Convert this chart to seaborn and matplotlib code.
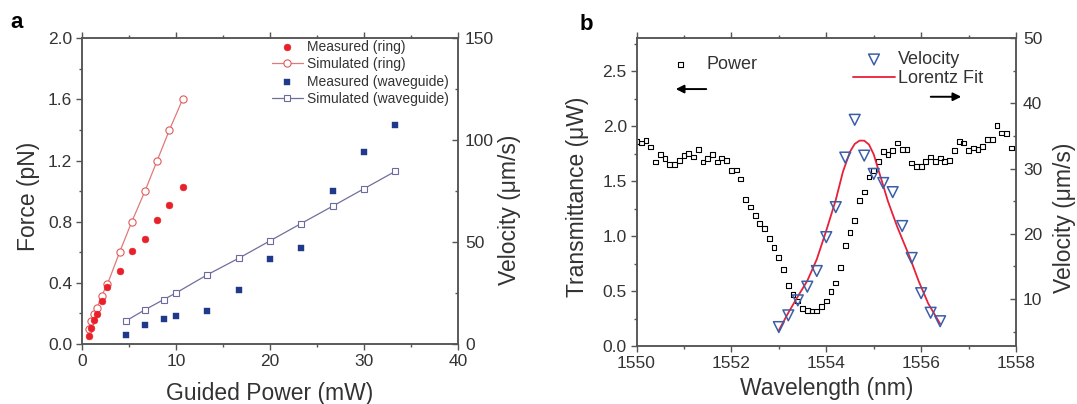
import matplotlib
matplotlib.use("Agg")
import matplotlib.pyplot as plt
from matplotlib.ticker import MultipleLocator, FormatStrFormatter
import seaborn as sns

# ---- panel a: force vs guided power ----
ring_power = [0.7, 1.0, 1.3, 1.6, 2.1, 2.7, 4.0, 5.3, 6.7, 8.0, 9.3, 10.7]
ring_measured = [0.054, 0.104, 0.154, 0.198, 0.282, 0.376, 0.48, 0.61, 0.684, 0.812, 0.908, 1.027]
ring_simulated = [0.10, 0.15, 0.195, 0.234, 0.317, 0.39, 0.60, 0.80, 1.0, 1.2, 1.4, 1.6]

wg_power = [4.7, 6.7, 8.7, 10.0, 13.3, 16.7, 20.0, 23.3, 26.7, 30.0, 33.3]
wg_measured = [0.059, 0.122, 0.163, 0.180, 0.213, 0.354, 0.554, 0.625, 1.003, 1.255, 1.433]
wg_simulated = [0.152, 0.224, 0.291, 0.334, 0.452, 0.562, 0.675, 0.788, 0.903, 1.016, 1.129]

# ---- panel b: transmission spectrum and velocity ----
power_wl = [1550.0, 1550.1, 1550.2, 1550.3, 1550.4, 1550.5, 1550.6, 1550.7, 1550.8, 1550.9,
            1551.0, 1551.1, 1551.2, 1551.3, 1551.4, 1551.5, 1551.6, 1551.7, 1551.8, 1551.9,
            1552.0, 1552.1, 1552.2, 1552.3, 1552.4, 1552.5, 1552.6, 1552.7, 1552.8, 1552.9,
            1553.0, 1553.1, 1553.2, 1553.3, 1553.4, 1553.5, 1553.6, 1553.7, 1553.8, 1553.9,
            1554.0, 1554.1, 1554.2, 1554.3, 1554.4, 1554.5, 1554.6, 1554.7, 1554.8, 1554.9,
            1555.0, 1555.1, 1555.2, 1555.3, 1555.4, 1555.5, 1555.6, 1555.7, 1555.8, 1555.9,
            1556.0, 1556.1, 1556.2, 1556.3, 1556.4, 1556.5, 1556.6, 1556.7, 1556.8, 1556.9,
            1557.0, 1557.1, 1557.2, 1557.3, 1557.4, 1557.5, 1557.6, 1557.7, 1557.8, 1557.9]
power_uw = [1.863, 1.847, 1.869, 1.811, 1.674, 1.741, 1.705, 1.650, 1.650, 1.689,
            1.735, 1.750, 1.720, 1.787, 1.674, 1.705, 1.744, 1.674, 1.711, 1.686,
            1.595, 1.601, 1.519, 1.331, 1.264, 1.191, 1.112, 1.067, 0.975, 0.896,
            0.802, 0.693, 0.553, 0.471, 0.410, 0.343, 0.322, 0.319, 0.319, 0.359,
            0.410, 0.495, 0.574, 0.714, 0.915, 1.036, 1.139, 1.322, 1.401, 1.538,
            1.595, 1.680, 1.771, 1.741, 1.781, 1.847, 1.787, 1.787, 1.665, 1.635,
            1.635, 1.680, 1.720, 1.680, 1.711, 1.680, 1.686, 1.781, 1.863, 1.847,
            1.781, 1.802, 1.787, 1.817, 1.878, 1.878, 2.009, 1.939, 1.930, 1.802]

vel_wl = [1553.0, 1553.2, 1553.4, 1553.6, 1553.8, 1554.0, 1554.2, 1554.4, 1554.6,
          1554.8, 1555.0, 1555.2, 1555.4, 1555.6, 1555.8, 1556.0, 1556.2, 1556.4]
velocity = [5.7, 7.5, 9.8, 11.9, 14.3, 19.5, 24.1, 31.7, 37.5,
            32.0, 29.2, 27.8, 26.4, 21.2, 16.3, 10.9, 7.9, 6.6]

# Lorentz fit curve
fit_wl = [1553.0, 1553.2, 1553.4, 1553.6, 1553.8, 1554.0, 1554.2, 1554.35, 1554.5,
          1554.6, 1554.7, 1554.8, 1554.9, 1555.0, 1555.1, 1555.3, 1555.5, 1555.75,
          1555.95, 1556.15, 1556.4]
fit_vel = [5.2, 7.9, 10.4, 12.8, 16.1, 20.5, 25.2, 29.5, 32.6,
           33.8, 34.3, 34.3, 33.7, 32.2, 29.8, 25.0, 21.0, 16.6,
           12.7, 9.3, 6.2]

RED = "#e8202a"
BLUE = "#1f3a8a"
TXT = "#333333"
SPINE = "#555555"

sns.set_style("ticks")
plt.rcParams["font.family"] = ["Liberation Sans", "DejaVu Sans"]
plt.rcParams["text.color"] = TXT
plt.rcParams["axes.labelcolor"] = TXT


def style_axes(ax, ax2):
    for a in (ax, ax2):
        for s in a.spines.values():
            s.set_color(SPINE)
            s.set_linewidth(1.1)
    ax.tick_params(axis="both", which="both", direction="out", colors=SPINE,
                   labelcolor=TXT, labelsize=12.5, width=1.0, pad=3)
    ax.tick_params(which="major", length=4)
    ax.tick_params(which="minor", length=2.5)
    ax.tick_params(axis="x", which="both", top=True, labeltop=False)
    ax2.tick_params(axis="y", which="both", direction="in", colors=SPINE,
                    labelcolor=TXT, labelsize=12.5, width=1.0, pad=5)
    ax2.tick_params(which="major", length=4)
    ax2.tick_params(which="minor", length=2.5)


fig = plt.figure(figsize=(10.77, 4.04), dpi=100)

# ================= panel a =================
axa = fig.add_axes([0.0761, 0.1485, 0.3492, 0.7567])
axa2 = axa.twinx()

sns.scatterplot(x=ring_power, y=ring_measured, ax=axa, color=RED, edgecolor=RED,
                s=24, marker="o", label="Measured (ring)", zorder=3)
sns.lineplot(x=ring_power, y=ring_simulated, ax=axa, color="#e07a7a", linewidth=0.9,
             marker="o", markersize=5.2, markerfacecolor="white",
             markeredgecolor="#e05a5a", markeredgewidth=0.8, label="Simulated (ring)")
sns.scatterplot(x=wg_power, y=wg_measured, ax=axa, color=BLUE, edgecolor=BLUE,
                s=13, marker="s", label="Measured (waveguide)", zorder=3)
sns.lineplot(x=wg_power, y=wg_simulated, ax=axa, color="#6f6f9c", linewidth=0.9,
             marker="s", markersize=4.6, markerfacecolor="white",
             markeredgecolor="#6a6aa0", markeredgewidth=0.8, label="Simulated (waveguide)")

axa.set_xlim(0, 40)
axa.set_ylim(0, 2.0)
axa2.set_ylim(0, 150)
axa.xaxis.set_major_locator(MultipleLocator(10))
axa.xaxis.set_minor_locator(MultipleLocator(5))
axa.yaxis.set_major_locator(MultipleLocator(0.4))
axa.yaxis.set_minor_locator(MultipleLocator(0.2))
axa2.yaxis.set_major_locator(MultipleLocator(50))
axa2.yaxis.set_minor_locator(MultipleLocator(25))
style_axes(axa, axa2)

axa.set_xlabel("Guided Power (mW)", fontsize=16.5)
axa.set_ylabel("Force (pN)", fontsize=16.5)
axa2.set_ylabel("Velocity (μm/s)", fontsize=16.5)
axa.yaxis.set_label_coords(-0.112, 0.484)
axa2.yaxis.set_label_coords(1.107, 0.44)
axa.xaxis.set_label_coords(0.5, -0.125)

axa.legend(loc="upper left", bbox_to_anchor=(0.5045, 0.996), frameon=False,
           fontsize=10, handlelength=2.27, handletextpad=0.3, labelspacing=0.26,
           borderpad=0, borderaxespad=0)

# ================= panel b =================
axb = fig.add_axes([0.591, 0.1436, 0.3524, 0.7616])
axb2 = axb.twinx()

sns.scatterplot(x=power_wl, y=power_uw, ax=axb, marker="s", s=12, color="black",
                facecolor="none", edgecolor="black", linewidth=0.8, label="Power")
sns.scatterplot(x=vel_wl, y=velocity, ax=axb2, marker="v", s=60, color="#3a5fa8",
                facecolor="none", edgecolor="#3a5fa8", linewidth=1.1, label="Velocity",
                zorder=3)
sns.lineplot(x=fit_wl, y=fit_vel, ax=axb2, color="#e8203a", linewidth=1.3,
             label="Lorentz Fit")

axb.set_xlim(1550, 1558)
axb.set_ylim(0, 2.8)
axb2.set_ylim(2.8, 50)
axb.xaxis.set_major_locator(MultipleLocator(2))
axb.xaxis.set_minor_locator(MultipleLocator(1))
axb.yaxis.set_major_locator(MultipleLocator(0.5))
axb.yaxis.set_minor_locator(MultipleLocator(0.25))
axb2.yaxis.set_major_locator(MultipleLocator(10))
axb2.yaxis.set_minor_locator(MultipleLocator(5))
axb.xaxis.set_major_formatter(FormatStrFormatter("%d"))
style_axes(axb, axb2)

axb.set_xlabel("Wavelength (nm)", fontsize=16.5)
axb.set_ylabel("Transmittance (μW)", fontsize=16.5)
axb2.set_ylabel("Velocity (μm/s)", fontsize=16.5)
axb.yaxis.set_label_coords(-0.125, 0.485)
axb2.yaxis.set_label_coords(1.0975, 0.416)
axb.xaxis.set_label_coords(0.5, -0.1)

axb.legend(loc="upper left", bbox_to_anchor=(0.069, 0.9415), frameon=False,
           fontsize=13, handlelength=2.0, handletextpad=0.4,
           borderpad=0, borderaxespad=0)
axb2.legend(loc="upper left", bbox_to_anchor=(0.571, 0.958), frameon=False,
            fontsize=13, handlelength=2.3, handletextpad=0.18, labelspacing=0.1,
            borderpad=0, borderaxespad=0)

# direction arrows
axb.annotate("", xy=(0.096, 0.835), xytext=(0.191, 0.835), xycoords="axes fraction",
             arrowprops=dict(arrowstyle="-|>", color="black", lw=1.4, mutation_scale=12))
axb.annotate("", xy=(0.863, 0.810), xytext=(0.768, 0.810), xycoords="axes fraction",
             arrowprops=dict(arrowstyle="-|>", color="black", lw=1.4, mutation_scale=12))

fig.text(10 / 1077, 1 - 28.5 / 404, "a", fontsize=16, fontweight="bold", color="black",
         va="baseline")
fig.text(580 / 1077, 1 - 29.5 / 404, "b", fontsize=16, fontweight="bold", color="black",
         va="baseline")

fig.savefig("out.png", dpi=100)
